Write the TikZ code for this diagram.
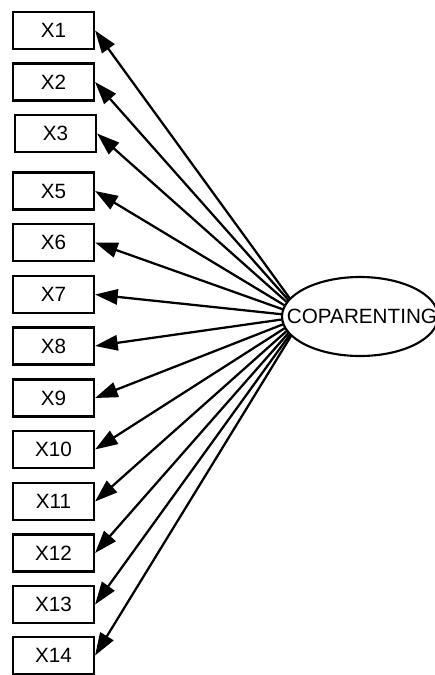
\documentclass[tikz,border=0pt]{standalone}
\usepackage{fontspec}
\setmainfont{Liberation Sans}
\usetikzlibrary{shapes.geometric,arrows.meta,backgrounds}
\begin{document}
\begin{tikzpicture}[x=0.75pt,y=-0.75pt,
  obs/.style={draw,line width=1.6pt,minimum width=60.75pt,minimum height=27.75pt,inner sep=0pt,font=\fontsize{15.5}{18}\selectfont},
  lat/.style={draw,fill=white,ellipse,line width=1.6pt,minimum width=117pt,minimum height=59.25pt,inner sep=0pt},
  lattext/.style={inner sep=0pt,font=\fontsize{15.5}{18}\selectfont},
  load/.style={line width=1.7pt,-{Triangle[length=17pt,width=11.5pt]}}]
\useasboundingbox (0,0) rectangle (435,675);
\clip (0,0) rectangle (435,675);
\node[lat] (cop) at (360,316.5) {};
\node[lattext] (copt) at (362,316.5) {COPARENTING};
\coordinate (hub) at (303,316.5);
\node[obs] (x1) at (53.5,30.5) {X1};
\node[obs] (x2) at (53.5,82) {X2};
\node[obs] (x3) at (55.5,133.5) {X3};
\node[obs] (x5) at (53.5,191) {X5};
\node[obs] (x6) at (53.5,242.5) {X6};
\node[obs] (x7) at (53.5,294.5) {X7};
\node[obs] (x8) at (53.5,346) {X8};
\node[obs] (x9) at (53.5,398) {X9};
\node[obs] (x10) at (53.5,449.5) {X10};
\node[obs] (x11) at (53.5,501.5) {X11};
\node[obs] (x12) at (53.5,553) {X12};
\node[obs] (x13) at (53.5,604.5) {X13};
\node[obs] (x14) at (53.5,655.5) {X14};
\begin{scope}[on background layer]
\foreach \n in {x1,x2,x3,x5,x6,x7,x8,x9,x10,x11,x12,x13,x14}
  \draw[load] (hub) -- (\n.east);
\end{scope}
\end{tikzpicture}
\end{document}
